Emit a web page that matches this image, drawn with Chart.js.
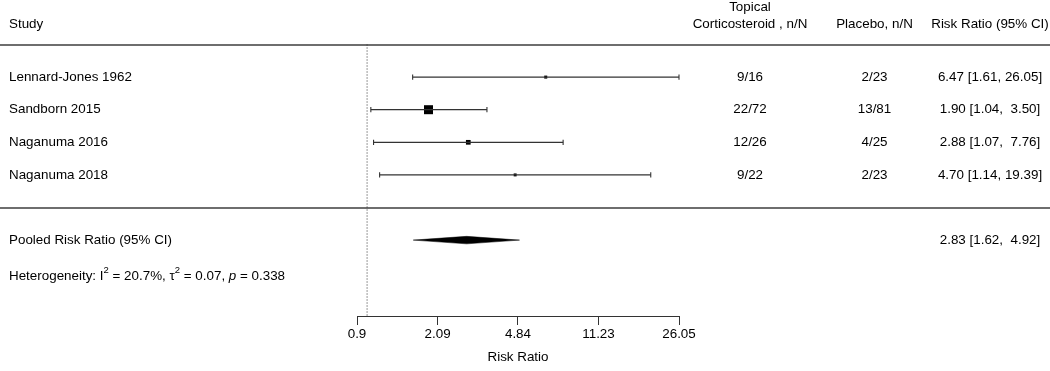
<!DOCTYPE html>
<html>
<head>
<meta charset="utf-8">
<script src="https://cdn.jsdelivr.net/npm/chart.js@4/dist/chart.umd.min.js"></script>
<style>
html,body{margin:0;padding:0;background:#fff;}
#wrap{width:1050px;height:371px;position:relative;}
</style>
</head>
<body>
<div id="wrap"><canvas id="c"></canvas></div>
<script>
// ---- data ----
const studies = ['Lennard-Jones 1962', 'Sandborn 2015', 'Naganuma 2016', 'Naganuma 2018'];
const treatEvents = [9, 22, 12, 9];
const treatTotal = [16, 72, 26, 22];
const placeboEvents = [2, 13, 4, 2];
const placeboTotal = [23, 81, 25, 23];
const riskRatio = [6.47, 1.90, 2.88, 4.70];
const ciLower = [1.61, 1.04, 1.07, 1.14];
const ciUpper = [26.05, 3.50, 7.76, 19.39];
const weights = [10.9, 57.2, 21.4, 10.5];
const pooled = [2.83];
const pooledLower = [1.62];
const pooledUpper = [4.92];
const heteroI2 = [20.7];
const heteroTau2 = [0.07];
const heteroP = [0.338];
const xTicks = [0.9, 2.09, 4.84, 11.23, 26.05];

// ---- layout / style ----
const FONT = '"Liberation Sans", Arial, Helvetica, sans-serif';
const FS = 13.4;
const rowPooled = 6, rowHetero = 7.1, rowSep = 5, rowHeader = 0;
const yMin = -1.17, yMax = 8.328;
const maxW = Math.max(...weights);
const sideFor = w => 9 * Math.pow(w / maxW, 0.66);

const pad = (s, n) => { s = String(s); while (s.length < n) s = ' ' + s; return s; };
const ciText = (r, l, u) => r.toFixed(2) + ' [' + l.toFixed(2) + ', ' + pad(u.toFixed(2), 5) + ']';

const datasets = [];
// reference line at RR = 1
datasets.push({
  type: 'line', data: [{x: 1, y: rowHeader}, {x: 1, y: yMax}],
  borderColor: '#333', borderWidth: 1, borderDash: [1, 2], pointRadius: 0, clip: false
});
// confidence intervals
studies.forEach((s, i) => {
  datasets.push({
    type: 'line', data: [{x: ciLower[i], y: i + 1}, {x: ciUpper[i], y: i + 1}],
    borderColor: '#333', borderWidth: 1.2, pointStyle: 'line', pointRotation: 90,
    pointRadius: 2.6, pointBorderColor: '#333', pointBorderWidth: 1.1, clip: false
  });
});
// point estimates
datasets.push({
  type: 'scatter', data: riskRatio.map((v, i) => ({x: v, y: i + 1})),
  pointStyle: 'rect', pointRadius: weights.map(w => sideFor(w) / Math.SQRT2),
  backgroundColor: '#000', borderWidth: 0, pointBorderWidth: 0, clip: false
});
// pooled diamond
const dh = 0.115;
datasets.push({
  type: 'line',
  data: [{x: pooledLower[0], y: rowPooled}, {x: pooled[0], y: rowPooled - dh},
         {x: pooledUpper[0], y: rowPooled}, {x: pooled[0], y: rowPooled + dh},
         {x: pooledLower[0], y: rowPooled}],
  fill: 'shape', backgroundColor: '#000', borderColor: '#000', borderWidth: 0.5,
  pointRadius: 0, tension: 0, clip: false
});

const textPlugin = {
  id: 'forestText',
  beforeDatasetsDraw(chart) {
    const ctx = chart.ctx, y = chart.scales.y;
    ctx.save();
    ctx.strokeStyle = '#6e6e6e';
    ctx.lineWidth = 2;
    [rowHeader, rowSep].forEach(r => {
      const py = Math.round(y.getPixelForValue(r));
      ctx.beginPath(); ctx.moveTo(0, py); ctx.lineTo(1050, py); ctx.stroke();
    });
    ctx.restore();
  },
  afterDraw(chart) {
    const ctx = chart.ctx, y = chart.scales.y;
    ctx.save();
    ctx.fillStyle = '#000';
    ctx.font = FS + 'px ' + FONT;
    ctx.textBaseline = 'middle';
    const colStudy = 9, colTreat = 750, colPlac = 874.5, colRR = 990;
    // header
    ctx.textAlign = 'left';
    ctx.fillText('Study', colStudy, 24);
    ctx.textAlign = 'center';
    ctx.fillText('Topical', colTreat, 7);
    ctx.fillText('Corticosteroid , n/N', colTreat, 24);
    ctx.fillText('Placebo, n/N', colPlac, 24);
    ctx.fillText('Risk Ratio (95% CI)', colRR, 24);
    // rows
    studies.forEach((s, i) => {
      const py = y.getPixelForValue(i + 1);
      ctx.textAlign = 'left';
      ctx.fillText(s, colStudy, py);
      ctx.textAlign = 'center';
      ctx.fillText(treatEvents[i] + '/' + treatTotal[i], colTreat, py);
      ctx.fillText(placeboEvents[i] + '/' + placeboTotal[i], colPlac, py);
      ctx.fillText(ciText(riskRatio[i], ciLower[i], ciUpper[i]), colRR, py);
    });
    // pooled
    let py = y.getPixelForValue(rowPooled);
    ctx.textAlign = 'left';
    ctx.fillText('Pooled Risk Ratio (95% CI)', colStudy, py);
    ctx.textAlign = 'center';
    ctx.fillText(ciText(pooled[0], pooledLower[0], pooledUpper[0]), colRR, py);
    // heterogeneity
    py = y.getPixelForValue(rowHetero);
    ctx.textAlign = 'left';
    const sup = 9.5 + 'px ' + FONT;
    const norm = FS + 'px ' + FONT;
    const ital = 'italic ' + FS + 'px ' + FONT;
    const parts = [
      ['Heterogeneity: I', norm, 0], ['2', sup, -5.5],
      [' = ' + heteroI2[0].toFixed(1) + '%, \u03c4', norm, 0], ['2', sup, -5.5],
      [' = ' + heteroTau2[0].toFixed(2) + ', ', norm, 0], ['p', ital, 0],
      [' = ' + heteroP[0].toFixed(3), norm, 0]
    ];
    let x = colStudy;
    parts.forEach(([t, f, dy]) => {
      ctx.font = f;
      ctx.fillText(t, x, py + dy);
      x += ctx.measureText(t).width;
    });
    ctx.restore();
  }
};

new Chart(document.getElementById('c'), {
  type: 'scatter',
  data: {datasets},
  options: {
    responsive: true, maintainAspectRatio: false, animation: false,
    layout: {padding: {left: 357, right: 371, top: 0, bottom: 0}},
    plugins: {legend: {display: false}, tooltip: {enabled: false}},
    scales: {
      x: {
        type: 'logarithmic', min: 0.9, max: 26.05,
        afterBuildTicks: s => { s.ticks = xTicks.map(v => ({value: v})); },
        afterFit: s => { s.height = 55; },
        ticks: {
          callback: v => String(v), color: '#000', padding: 1.5, maxRotation: 0, autoSkip: false,
          font: {family: FONT, size: FS}
        },
        grid: {display: true, drawOnChartArea: false, drawTicks: true, tickLength: 9, color: '#333', lineWidth: 1},
        border: {display: true, color: '#333', width: 1},
        title: {display: true, text: 'Risk Ratio', color: '#000', font: {family: FONT, size: FS}, padding: {top: 0, bottom: 6}}
      },
      y: {type: 'linear', display: false, min: yMin, max: yMax, reverse: true}
    }
  },
  plugins: [textPlugin]
});
</script>
</body>
</html>
